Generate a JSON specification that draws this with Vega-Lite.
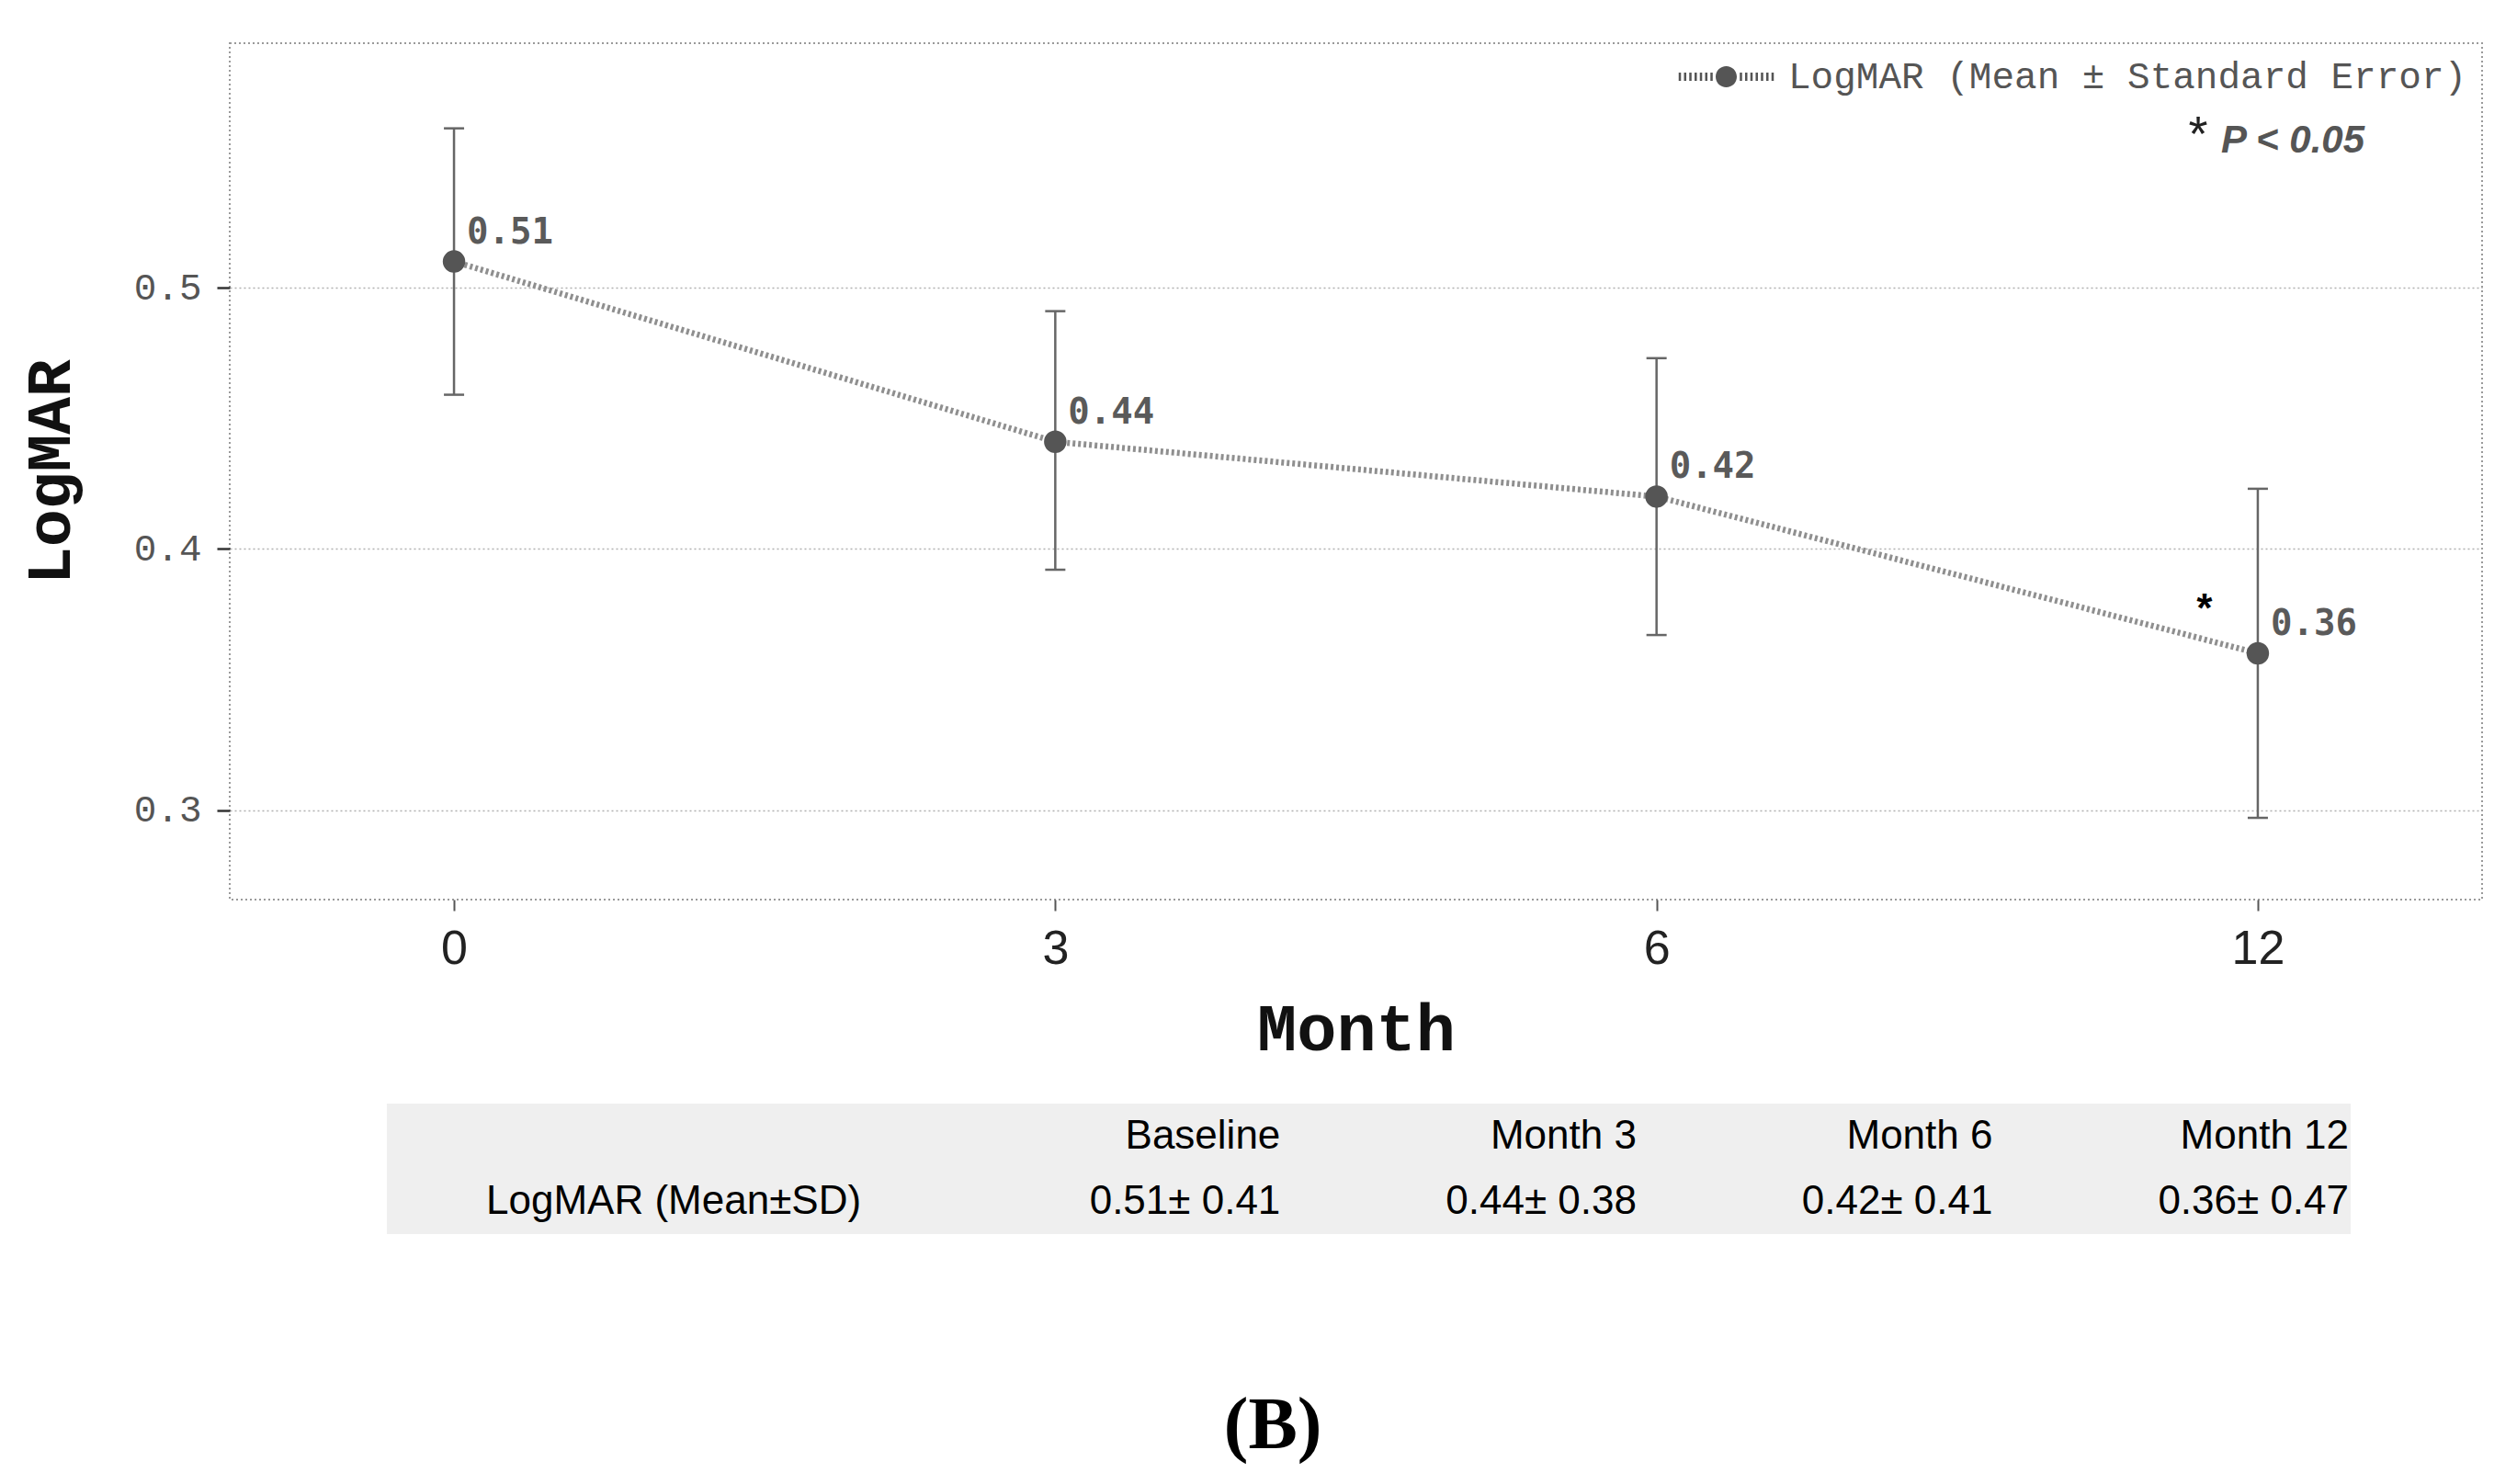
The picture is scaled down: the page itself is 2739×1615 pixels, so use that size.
{
  "$schema": "https://vega.github.io/schema/vega-lite/v6.json",
  "background": "white",
  "padding": {"left": 20, "top": 46, "right": 30, "bottom": 10},
  "config": {"view": {"stroke": null}},
  "title": {"text": "(B)", "orient": "bottom", "anchor": "middle", "frame": "bounds", "font": "Liberation Serif", "fontSize": 80, "fontWeight": "bold", "color": "#000000", "offset": 170, "dx": 24},
  "spacing": 44,
  "vconcat": [
    {
      "width": 2451,
      "height": 932,
      "view": {"stroke": "#9a9a9a", "strokeDash": [2, 3], "strokeWidth": 2},
      "data": {"values": [
        {"idx": 0, "month": "0", "mean": 0.51, "lower": 0.459, "upper": 0.561, "series": "LogMAR (Mean ± Standard Error)", "sig": ""},
        {"idx": 1, "month": "3", "mean": 0.441, "lower": 0.392, "upper": 0.491, "series": "LogMAR (Mean ± Standard Error)", "sig": ""},
        {"idx": 2, "month": "6", "mean": 0.42, "lower": 0.367, "upper": 0.473, "series": "LogMAR (Mean ± Standard Error)", "sig": ""},
        {"idx": 3, "month": "12", "mean": 0.36, "lower": 0.297, "upper": 0.423, "series": "LogMAR (Mean ± Standard Error)", "sig": "*"}
      ]},
      "encoding": {
        "x": {
          "field": "month", "type": "ordinal",
          "scale": {"type": "point", "domain": ["0", "3", "6", "12"], "padding": 0.373},
          "axis": {"title": "Month", "titleFont": "Liberation Mono", "titleFontSize": 72, "titleFontWeight": "bold", "titleColor": "#111111", "titlePadding": 27,
                   "labelFont": "Liberation Sans", "labelFontSize": 52, "labelColor": "#222222", "labelAngle": 0, "labelPadding": 16,
                   "tickSize": 12, "tickColor": "#555555", "tickWidth": 2, "domain": false, "grid": false}
        },
        "y": {
          "field": "mean", "type": "quantitative", "title": "LogMAR",
          "scale": {"domain": [0.2657, 0.5936], "zero": false, "nice": false},
          "axis": {"values": [0.3, 0.4, 0.5], "format": ".1f", "labelFont": "Liberation Mono", "labelFontSize": 41, "labelColor": "#555555", "labelPadding": 17,
                   "tickSize": 14, "tickColor": "#333333", "tickWidth": 2.5, "domain": false,
                   "grid": true, "gridColor": "#b0b0b0", "gridDash": [2, 3], "gridWidth": 1.5,
                   "titleFont": "Liberation Mono", "titleFontSize": 68, "titleFontWeight": "bold", "titleColor": "#111111", "titlePadding": 56}
        }
      },
      "layer": [
        {"mark": {"type": "rule", "color": "#666666", "strokeWidth": 2.5},
         "encoding": {"y": {"field": "lower", "type": "quantitative", "title": "LogMAR"}, "y2": {"field": "upper"}}},
        {"mark": {"type": "tick", "color": "#666666", "size": 22, "thickness": 2.5, "orient": "horizontal", "opacity": 1},
         "encoding": {"y": {"field": "upper", "type": "quantitative", "title": "LogMAR"}}},
        {"mark": {"type": "tick", "color": "#666666", "size": 22, "thickness": 2.5, "orient": "horizontal", "opacity": 1},
         "encoding": {"y": {"field": "lower", "type": "quantitative", "title": "LogMAR"}}},
        {"mark": {"type": "line", "color": "#8f8f8f", "strokeWidth": 6.5, "strokeDash": [3, 3]},
         "encoding": {"order": {"field": "idx", "type": "quantitative"}}},
        {"mark": {"type": "point", "filled": true, "size": 600, "opacity": 1},
         "encoding": {"color": {"field": "series", "type": "nominal", "scale": {"range": ["#555555"]},
           "legend": {"title": null, "orient": "top-right", "offset": 16, "padding": 0,
             "symbolType": "M-1,0A1,1,0,1,0,1,0A1,1,0,1,0,-1,0ZM-4.5,-0.4h0.22v0.8h-0.22ZM-4,-0.4h0.22v0.8h-0.22ZM-3.5,-0.4h0.22v0.8h-0.22ZM-3,-0.4h0.22v0.8h-0.22ZM-2.5,-0.4h0.22v0.8h-0.22ZM-2,-0.4h0.22v0.8h-0.22ZM-1.5,-0.4h0.22v0.8h-0.22ZM1.28,-0.4h0.22v0.8h-0.22ZM1.78,-0.4h0.22v0.8h-0.22ZM2.28,-0.4h0.22v0.8h-0.22ZM2.78,-0.4h0.22v0.8h-0.22ZM3.28,-0.4h0.22v0.8h-0.22ZM3.78,-0.4h0.22v0.8h-0.22ZM4.28,-0.4h0.22v0.8h-0.22Z",
             "symbolSize": 529, "symbolStrokeWidth": 0, "symbolOpacity": 1,
             "labelFont": "Liberation Mono", "labelFontSize": 41, "labelColor": "#555555", "labelOffset": 47, "labelLimit": 1400}}}},
        {"mark": {"type": "text", "align": "left", "baseline": "middle", "dx": 14, "dy": -32, "font": "DejaVu Sans Mono", "fontSize": 39, "fontWeight": "bold", "color": "#5a5a5a"},
         "encoding": {"text": {"field": "mean", "type": "quantitative", "format": ".2f"}}},
        {"mark": {"type": "text", "align": "center", "baseline": "alphabetic", "dx": -58, "dy": -33, "font": "Liberation Mono", "fontSize": 44, "fontWeight": "bold", "color": "#000000"},
         "encoding": {"text": {"field": "sig", "type": "nominal"}}},
        {"data": {"values": [{"month": "12", "value": 0.5525, "note": "*"}]},
         "mark": {"type": "text", "align": "center", "baseline": "alphabetic", "dx": -65, "font": "Liberation Sans", "fontSize": 54, "color": "#222222"},
         "encoding": {"y": {"field": "value", "type": "quantitative", "title": "LogMAR"}, "text": {"field": "note", "type": "nominal"}}},
        {"data": {"values": [{"month": "12", "value": 0.5518, "note": "P < 0.05"}]},
         "mark": {"type": "text", "align": "left", "baseline": "alphabetic", "dx": -40, "font": "Liberation Sans", "fontStyle": "italic", "fontWeight": "bold", "fontSize": 42, "color": "#555555"},
         "encoding": {"y": {"field": "value", "type": "quantitative", "title": "LogMAR"}, "text": {"field": "note", "type": "nominal"}}}
      ]
    },
    {
      "width": 2451,
      "height": 142,
      "view": {"stroke": null},
      "data": {"values": [
        {"kind": "cell", "row": "header", "col": 1, "text": "Baseline"},
        {"kind": "cell", "row": "header", "col": 2, "text": "Month 3"},
        {"kind": "cell", "row": "header", "col": 3, "text": "Month 6"},
        {"kind": "cell", "row": "header", "col": 4, "text": "Month 12"},
        {"kind": "label", "row": "values", "col": -1.23, "text": "LogMAR (Mean±SD)"},
        {"kind": "cell", "row": "values", "col": 1, "text": "0.51± 0.41"},
        {"kind": "cell", "row": "values", "col": 2, "text": "0.44± 0.38"},
        {"kind": "cell", "row": "values", "col": 3, "text": "0.42± 0.41"},
        {"kind": "cell", "row": "values", "col": 4, "text": "0.36± 0.47"}
      ]},
      "layer": [
        {"data": {"values": [{"x1": -1.509, "x2": 4.005}]},
         "mark": {"type": "rect", "color": "#efefef"},
         "encoding": {"x": {"field": "x1", "type": "quantitative", "scale": {"domain": [-1.95, 4.374], "nice": false, "zero": false}, "axis": null}, "x2": {"field": "x2"}}},
        {"transform": [{"filter": "datum.kind == 'cell'"}],
         "mark": {"type": "text", "align": "right", "baseline": "middle", "font": "Liberation Sans", "fontSize": 44, "color": "#000000"},
         "encoding": {"x": {"field": "col", "type": "quantitative", "scale": {"domain": [-1.95, 4.374], "nice": false, "zero": false}, "axis": null},
                      "y": {"field": "row", "type": "nominal", "scale": {"type": "point", "domain": ["header", "values"], "padding": 0.5}, "axis": null},
                      "text": {"field": "text", "type": "nominal"}}},
        {"transform": [{"filter": "datum.kind == 'label'"}],
         "mark": {"type": "text", "align": "left", "baseline": "middle", "font": "Liberation Sans", "fontSize": 44, "color": "#000000"},
         "encoding": {"x": {"field": "col", "type": "quantitative", "scale": {"domain": [-1.95, 4.374], "nice": false, "zero": false}, "axis": null},
                      "y": {"field": "row", "type": "nominal", "scale": {"type": "point", "domain": ["header", "values"], "padding": 0.5}, "axis": null},
                      "text": {"field": "text", "type": "nominal"}}}
      ]
    }
  ]
}
